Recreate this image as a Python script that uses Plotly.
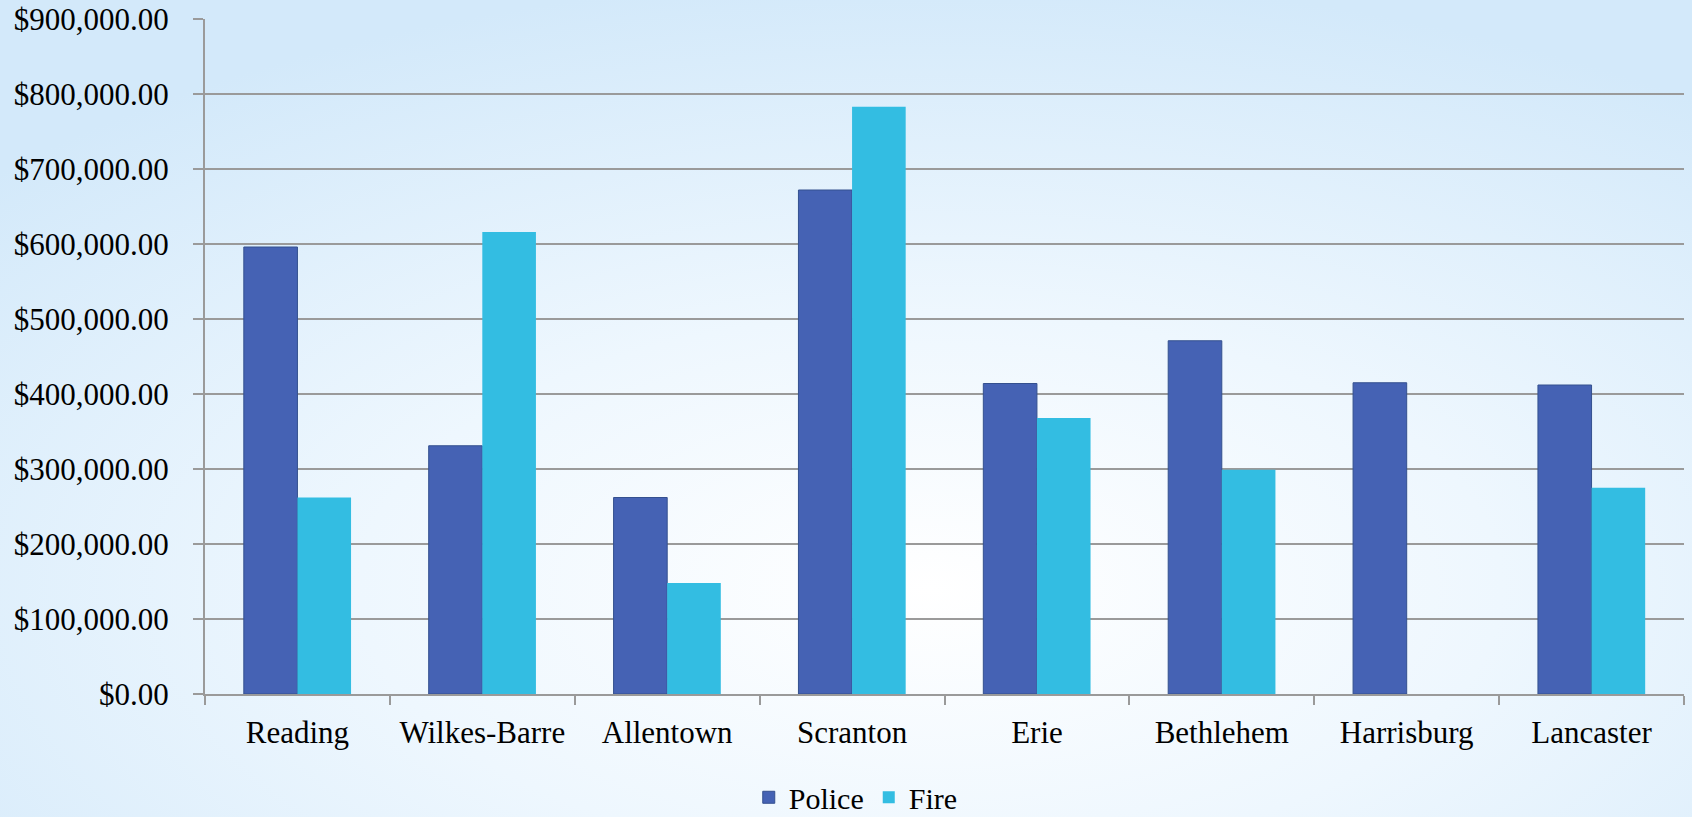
import plotly.graph_objects as go

cities = ["Reading", "Wilkes-Barre", "Allentown", "Scranton", "Erie", "Bethlehem", "Harrisburg", "Lancaster"]
police = [596000, 331000, 262000, 672000, 414000, 471000, 415000, 412000]
fire = [262000, 616000, 148000, 783000, 368000, 299000, 0, 275000]
y_ticks = [0, 100000, 200000, 300000, 400000, 500000, 600000, 700000, 800000, 900000]
y_labels = ["$%s.00" % format(v, ",") for v in y_ticks]

FONT = "'Liberation Serif', 'Times New Roman', serif"

bg_svg = (
    "data:image/svg+xml;utf8,"
    "<svg xmlns='http://www.w3.org/2000/svg' width='1692' height='817' viewBox='0 0 1692 817' preserveAspectRatio='none'>"
    "<defs><radialGradient id='g' cx='0.55' cy='0.72' r='0.75' gradientUnits='objectBoundingBox'>"
    "<stop offset='0' stop-color='%23ffffff'/>"
    "<stop offset='0.45' stop-color='%23eef7fe'/>"
    "<stop offset='1' stop-color='%23d3e9fa'/>"
    "</radialGradient></defs>"
    "<rect width='1692' height='817' fill='url(%23g)'/></svg>"
)

fig = go.Figure()
fig.add_trace(go.Bar(
    name="Police", x=cities, y=police,
    marker=dict(color="#4562b4", line=dict(color="#34508f", width=1)),
))
fig.add_trace(go.Bar(
    name="Fire", x=cities, y=fire,
    marker=dict(color="#33bde2", line=dict(color="#1fa8cf", width=0)),
))

fig.update_layout(
    width=1692, height=817,
    margin=dict(l=205, r=8, t=19, b=123, autoexpand=False),
    paper_bgcolor="#e6f3fd",
    plot_bgcolor="rgba(0,0,0,0)",
    barmode="group",
    bargap=0.42,
    bargroupgap=0,
    font=dict(family=FONT, size=31, color="#000000"),
    showlegend=True,
    legend=dict(
        orientation="h", x=0.44, xanchor="center", y=-0.153, yanchor="middle",
        font=dict(family=FONT, size=30, color="#000000"),
        bgcolor="rgba(0,0,0,0)", itemwidth=30, tracegroupgap=0,
    ),
    images=[dict(
        source=bg_svg, xref="paper", yref="paper",
        x=-205 / 1479, y=1 + 19 / 675, sizex=1692 / 1479, sizey=817 / 675,
        xanchor="left", yanchor="top", sizing="stretch", layer="below",
    )],
)

fig.update_xaxes(
    showline=True, linecolor="#9a9a9a", linewidth=2,
    ticks="outside", ticklen=9, tickcolor="#9a9a9a", tickwidth=2,
    tickson="boundaries", showgrid=False,
    tickfont=dict(family=FONT, size=31, color="#000000"),
    ticklabelstandoff=10,
)
fig.update_yaxes(
    range=[0, 900000], tickvals=y_ticks, ticktext=y_labels,
    showline=True, linecolor="#9a9a9a", linewidth=2,
    showgrid=True, gridcolor="#9a9a9a", gridwidth=2,
    ticks="outside", ticklen=10, tickcolor="#9a9a9a", tickwidth=2,
    tickfont=dict(family=FONT, size=31, color="#000000"),
    ticklabelstandoff=18, zeroline=False,
)

fig.write_html("out.html")
